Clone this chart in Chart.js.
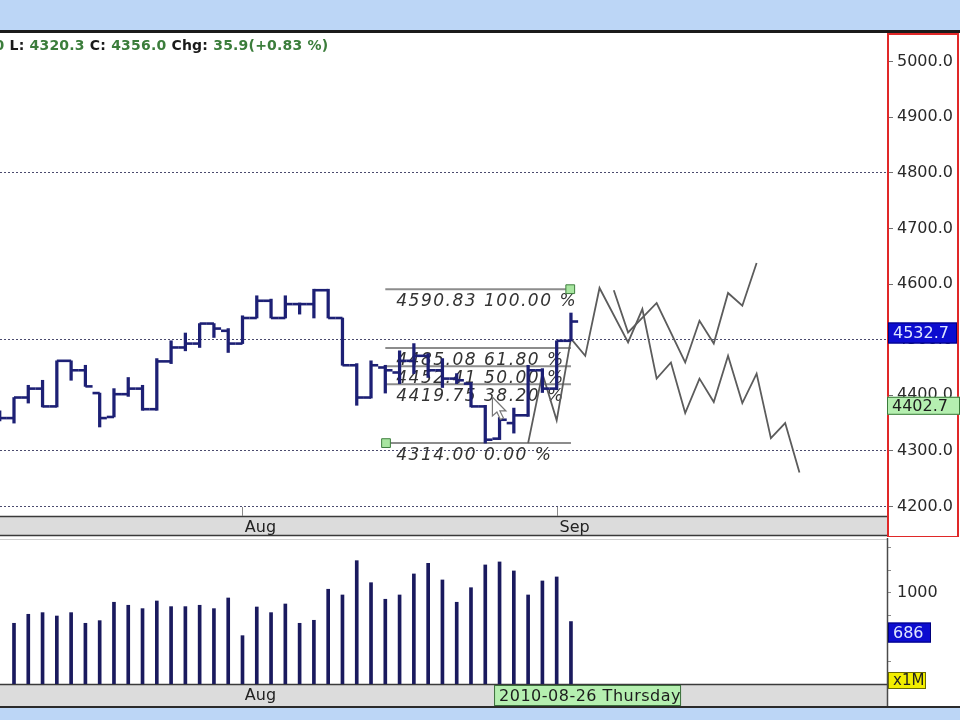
<!DOCTYPE html>
<html>
<head>
<meta charset="utf-8">
<title>Index – Fibonacci retracement</title>
<script src="https://cdn.jsdelivr.net/npm/chart.js@4.4.1/dist/chart.umd.min.js"></script>
<style>
  html, body { margin: 0; padding: 0; background: #fff; }
  body { width: 960px; height: 720px; position: relative; overflow: hidden; }
  .band { position: absolute; left: 0; width: 960px; background: #bcd6f6; }
  #topband { top: 0; height: 30px; border-bottom: 3px solid #1b1b1b; }
  #bottomband { top: 706px; height: 12px; border-top: 2px solid #2b2b2b; }
  canvas { position: absolute; left: 0; }
  #price { top: 33px; }
  #volume { top: 538px; }
</style>
</head>
<body>
<div id="topband" class="band"></div>
<canvas id="price" width="960" height="504"></canvas>
<canvas id="volume" width="960" height="168"></canvas>
<div id="bottomband" class="band"></div>
<script>
'use strict';

/* ---------- data ---------- */
const barDates = [
  '2010-07-08', '2010-07-09', '2010-07-12', '2010-07-13', '2010-07-14', '2010-07-15', '2010-07-16',
  '2010-07-19', '2010-07-20', '2010-07-21', '2010-07-22', '2010-07-23', '2010-07-26', '2010-07-27',
  '2010-07-28', '2010-07-29', '2010-07-30',
  '2010-08-02', '2010-08-03', '2010-08-04', '2010-08-05', '2010-08-06', '2010-08-09', '2010-08-10',
  '2010-08-11', '2010-08-12', '2010-08-13', '2010-08-16', '2010-08-17', '2010-08-18', '2010-08-19',
  '2010-08-20', '2010-08-23', '2010-08-24', '2010-08-25', '2010-08-26', '2010-08-27', '2010-08-30',
  '2010-08-31', '2010-09-01', '2010-09-02'
];
const opens  = [4360, 4359, 4396, 4412, 4380, 4462, 4445, 4404, 4361, 4402, 4412, 4375, 4461, 4486,
  4493, 4529, 4516, 4493, 4539, 4570, 4539, 4564, 4564, 4589, 4539, 4454, 4396, 4450, 4441, 4462,
  4471, 4445, 4430, 4421, 4380, 4322, 4350, 4364, 4445, 4412, 4498];
const highs  = [4372, 4396, 4418, 4427, 4462, 4462, 4454, 4404, 4412, 4432, 4418, 4466, 4498, 4512,
  4529, 4529, 4520, 4543, 4579, 4573, 4579, 4566, 4590.8, 4590.8, 4539, 4457, 4462, 4454, 4480, 4493,
  4475, 4466, 4439, 4423, 4382, 4360, 4377, 4454, 4448, 4498, 4548];
const lows   = [4354, 4350, 4386, 4379, 4379, 4427, 4416, 4343, 4361, 4398, 4373, 4373, 4457, 4480,
  4486, 4504, 4477, 4493, 4539, 4539, 4539, 4546, 4539, 4539, 4454, 4382, 4395, 4404, 4421, 4439,
  4432, 4414, 4421, 4379, 4314, 4320.3, 4332, 4362, 4405, 4410, 4498];
const closes = [4359, 4396, 4412, 4380, 4462, 4445, 4416, 4359, 4402, 4412, 4375, 4461, 4486, 4493,
  4529, 4520, 4493, 4539, 4570, 4539, 4564, 4564, 4589, 4539, 4454, 4396, 4454, 4445, 4462, 4471,
  4445, 4430, 4427, 4380, 4320.1, 4356.0, 4364, 4445, 4412, 4498, 4532.7];
// volume in millions
const volumes = [null, 667, 766, 784, 747, 784, 667, 696, 898, 865, 828, 912, 850, 850, 865, 828,
  945, 531, 846, 784, 879, 667, 700, 1041, 978, 1355, 1113, 931, 978, 1209, 1326, 1143, 898, 1058,
  1308, 1341, 1242, 978, 1132, 1176, 686];

const monthTickDates  = ['2010-08-02', '2010-09-01'];
const monthTickLabels = ['Aug', 'Sep'];
const priceTicks   = [4200, 4300, 4400, 4500, 4600, 4700, 4800, 4900, 5000];
const dottedLevels = [4200, 4300, 4500, 4800];
const volumeTicks  = [250, 500, 750, 1000, 1250, 1500];
const volumeLabelled = [1000];

// Fibonacci retracement tool
const fibLevels = [4590.83, 4485.08, 4452.41, 4419.75, 4314.00];
const fibPcts   = ['100.00', '61.80', '50.00', '38.20', '0.00'];
const fibSpan   = ['2010-08-16', '2010-09-02'];

// hand drawn projection zigzags (x = bar slot, y = price)
const projLowSlots  = [36, 37, 38, 39, 40, 41, 43, 44, 45, 46, 47, 48, 49, 50, 51, 52, 53, 54, 55];
const projLowPrices = [4314, 4439, 4355, 4502, 4471, 4593, 4495, 4555, 4430, 4459, 4368, 4430,
  4388, 4471, 4386, 4439, 4323, 4350, 4261];
const projHighSlots  = [42, 43, 45, 47, 48, 49, 50, 51, 52];
const projHighPrices = [4589, 4513, 4566, 4459, 4534, 4493, 4584, 4561, 4638];

const cursorDate  = '2010-08-26';
const cursorDay   = 'Thursday';
const cursorPrice = 4402.7;
const cursorArrow = { slot: 33.5, price: 4397 };

/* ---------- helpers ---------- */
const FIRST_SLOT = -1;                     // first bar sits just left of the plot edge
const slotOf = d => barDates.indexOf(d) + FIRST_SLOT;
const monthTickSlots = monthTickDates.map(slotOf);
const X_MIN = -0.98, X_MAX = 61.13;

const NAVY  = '#1d2075';
const GREEN = '#3b7d3b';
const FONT  = 'DejaVu Sans';
const axisFont = { family: FONT, size: 16 };

const fitAxis = (w, h) => scale => {
  if (w != null) scale.width = w;
  if (h != null) scale.height = h;
  scale.paddingTop = scale.paddingBottom = scale.paddingLeft = scale.paddingRight = 0;
};

function xAxis(height) {
  return {
    type: 'linear', min: X_MIN, max: X_MAX, offset: false,
    grid: { display: false, drawTicks: false, offset: false },
    border: { display: false },
    afterBuildTicks: s => { s.ticks = monthTickSlots.map(v => ({ value: v })); },
    ticks: {
      autoSkip: false, maxRotation: 0, padding: 2, labelOffset: 18,
      color: '#222', font: axisFont,
      callback: v => monthTickLabels[monthTickSlots.indexOf(v)] ?? ''
    },
    afterFit: fitAxis(null, height)
  };
}

function tag(ctx, x, y, w, h, fill, stroke, text, color, font) {
  ctx.save();
  ctx.fillStyle = fill;
  ctx.fillRect(x, y, w, h);
  ctx.strokeStyle = stroke;
  ctx.lineWidth = 1;
  ctx.strokeRect(x + 0.5, y + 0.5, w - 1, h - 1);
  ctx.fillStyle = color;
  ctx.font = font || `16px "${FONT}"`;
  ctx.textBaseline = 'middle';
  ctx.fillText(text, x + 5, y + h / 2 + 1);
  ctx.restore();
}

// grey axis strip under a plot, with little month ticks
function drawStrip(chart, bottomLine) {
  const { ctx, chartArea: a } = chart;
  const xs = chart.scales.x;
  ctx.save();
  ctx.fillStyle = '#dcdcdc';
  ctx.fillRect(0, a.bottom, a.right, (bottomLine || chart.height) - a.bottom);
  ctx.strokeStyle = '#3a3a3a';
  ctx.lineWidth = 1.5;
  ctx.beginPath();
  ctx.moveTo(0, a.bottom + 0.5); ctx.lineTo(a.right, a.bottom + 0.5);
  if (bottomLine) { ctx.moveTo(0, bottomLine + 0.5); ctx.lineTo(a.right, bottomLine + 0.5); }
  ctx.stroke();
  ctx.strokeStyle = '#8a8a8a';
  ctx.lineWidth = 1;
  ctx.beginPath();
  monthTickSlots.forEach(v => {
    const px = Math.round(xs.getPixelForValue(v)) + 0.5;
    ctx.moveTo(px, a.bottom - 9); ctx.lineTo(px, a.bottom);
  });
  ctx.stroke();
  ctx.restore();
}

/* ---------- price panel ---------- */
const hlData    = barDates.map((d, k) => ({ x: k + FIRST_SLOT, y: [lows[k], highs[k]] }));
const openData  = barDates.map((d, k) => ({ x: k + FIRST_SLOT - 0.25, y: opens[k] }));
const closeData = barDates.map((d, k) => ({ x: k + FIRST_SLOT + 0.25, y: closes[k] }));
const fibFrom = slotOf(fibSpan[0]), fibTo = slotOf(fibSpan[1]);

const pricePlugin = {
  id: 'priceDecor',
  beforeDraw(chart) { drawStrip(chart, chart.height - 2); },
  beforeDatasetsDraw(chart) {
    const { ctx, chartArea: a, scales: { x: xs, y: ys } } = chart;
    ctx.save();
    ctx.beginPath(); ctx.rect(a.left, a.top, a.width, a.height); ctx.clip();
    ctx.font = `italic 17px "${FONT}"`;
    ctx.letterSpacing = '1.5px';
    ctx.fillStyle = '#333';
    fibLevels.forEach((lv, j) => {
      ctx.fillText(`${lv.toFixed(2)} ${fibPcts[j]} %`, xs.getPixelForValue(fibFrom) + 11, ys.getPixelForValue(lv) + 17);
    });
    ctx.restore();
  },
  afterDatasetsDraw(chart) {
    const { ctx, scales: { x: xs, y: ys } } = chart;
    const tx = xs.getPixelForValue(cursorArrow.slot), ty = ys.getPixelForValue(cursorArrow.price);
    const pts = [[0, 0], [0, 19], [4.5, 15], [8, 22.5], [11, 21], [7.5, 14], [13.5, 14]];
    ctx.save();
    ctx.beginPath();
    pts.forEach(([px, py], i) => (i ? ctx.lineTo : ctx.moveTo).call(ctx, tx + px, ty + py));
    ctx.closePath();
    ctx.fillStyle = '#fff';
    ctx.fill();
    ctx.strokeStyle = '#777';
    ctx.lineWidth = 1.2;
    ctx.stroke();
    ctx.restore();
  },
  afterDraw(chart) {
    const { ctx, chartArea: a, scales: { y: ys } } = chart;
    // header line for the cursor bar (scrolled partly out of view on the left)
    const k = barDates.indexOf(cursorDate);
    const chg = closes[k] - closes[k - 1];
    const pct = chg / closes[k - 1] * 100;
    const parts = [
      ['O: ', '#1a1a1a'], [opens[k].toFixed(1) + ' ', GREEN],
      ['H: ', '#1a1a1a'], [highs[k].toFixed(1) + ' ', GREEN],
      ['L: ', '#1a1a1a'], [lows[k].toFixed(1) + ' ', GREEN],
      ['C: ', '#1a1a1a'], [closes[k].toFixed(1) + ' ', GREEN],
      ['Chg: ', '#1a1a1a'], [`${chg.toFixed(1)}(${chg >= 0 ? '+' : ''}${pct.toFixed(2)} %)`, GREEN]
    ];
    ctx.save();
    ctx.font = `bold 14px "${FONT}"`;
    ctx.letterSpacing = '0.2px';
    const hiText = parts[3][0];
    const lead = ctx.measureText(parts[0][0] + parts[1][0] + parts[2][0] + hiText.slice(0, hiText.length - 2)).width;
    let x = -5.5 - lead;
    parts.forEach(([t, c]) => { ctx.fillStyle = c; ctx.fillText(t, x, 17); x += ctx.measureText(t).width; });
    ctx.restore();

    // red frame round the price scale
    ctx.save();
    ctx.strokeStyle = '#e02828';
    ctx.lineWidth = 2;
    ctx.strokeRect(a.right + 1, 1, 70, chart.height - 1);
    ctx.restore();

    tag(ctx, a.right + 1, ys.getPixelForValue(closes[closes.length - 1]) + 1, 69, 21,
      '#0c0cd0', '#00007a', closes[closes.length - 1].toFixed(1), '#dfe6ff');
    tag(ctx, a.right, ys.getPixelForValue(cursorPrice) + 3, 73, 18,
      '#b5efb0', '#3b7a3b', cursorPrice.toFixed(1), '#1c1c1c');
  }
};

new Chart(document.getElementById('price'), {
  type: 'bar',
  data: {
    datasets: [
      ...fibLevels.map(lv => ({
        type: 'line', order: 6,
        data: [{ x: fibFrom, y: lv }, { x: fibTo, y: lv }],
        borderColor: '#8c8c8c', borderWidth: 2, pointRadius: 0
      })),
      {
        type: 'line', order: 5,
        data: projLowSlots.map((s, i) => ({ x: s, y: projLowPrices[i] })),
        borderColor: '#5c5c5c', borderWidth: 1.8, pointRadius: 0, tension: 0
      },
      {
        type: 'line', order: 5,
        data: projHighSlots.map((s, i) => ({ x: s, y: projHighPrices[i] })),
        borderColor: '#5c5c5c', borderWidth: 1.8, pointRadius: 0, tension: 0
      },
      {
        type: 'bar', order: 4, data: hlData,
        backgroundColor: NAVY, borderWidth: 0, barThickness: 2.6, grouped: false
      },
      {
        type: 'line', order: 3, data: openData, showLine: false,
        pointStyle: 'line', pointRadius: 3.6, pointBorderWidth: 2.6, pointBorderColor: NAVY
      },
      {
        type: 'line', order: 3, data: closeData, showLine: false,
        pointStyle: 'line', pointRadius: 3.6, pointBorderWidth: 2.6, pointBorderColor: NAVY
      },
      {
        type: 'line', order: 1, showLine: false,
        data: [{ x: fibTo - 0.05, y: fibLevels[0] }, { x: fibFrom + 0.05, y: fibLevels[fibLevels.length - 1] }],
        pointStyle: 'rect', pointRadius: 6.2, pointBackgroundColor: '#a8e6a0',
        pointBorderColor: '#3f7f3f', pointBorderWidth: 1
      }
    ]
  },
  options: {
    responsive: false,
    animation: false,
    events: [],
    devicePixelRatio: 1,
    layout: { padding: 0, autoPadding: false },
    plugins: { legend: { display: false }, tooltip: { enabled: false } },
    scales: {
      x: xAxis(21),
      y: {
        type: 'linear', position: 'right', min: 4182.9, max: 5051.6,
        afterBuildTicks: s => { s.ticks = priceTicks.map(v => ({ value: v })); },
        grid: {
          color: c => dottedLevels.includes(c.tick && c.tick.value) ? '#4b4b6e' : 'rgba(0,0,0,0)',
          lineWidth: 1, tickColor: '#707070', tickLength: 6
        },
        border: { display: false, dash: [2, 2] },
        ticks: { color: '#2a2a2a', font: axisFont, padding: 4, callback: v => v.toFixed(1) },
        afterFit: fitAxis(73, null)
      }
    }
  },
  plugins: [pricePlugin]
});

/* ---------- volume panel ---------- */
const volPlugin = {
  id: 'volDecor',
  beforeDraw(chart) {
    drawStrip(chart);
    const { ctx, chartArea: a } = chart;
    ctx.save();
    ctx.strokeStyle = '#cfcfcf';
    ctx.lineWidth = 1;
    ctx.beginPath(); ctx.moveTo(0, 1.5); ctx.lineTo(a.right, 1.5); ctx.stroke();
    ctx.restore();
  },
  afterDraw(chart) {
    const { ctx, chartArea: a, scales: { x: xs, y: ys } } = chart;
    ctx.save();
    ctx.strokeStyle = '#4a4a4a';
    ctx.lineWidth = 1.5;
    ctx.beginPath(); ctx.moveTo(a.right + 0.5, 0); ctx.lineTo(a.right + 0.5, chart.height); ctx.stroke();
    ctx.restore();

    const lastVol = volumes[volumes.length - 1];
    tag(ctx, a.right + 1, ys.getPixelForValue(lastVol) + 1, 43, 20, '#0c0cd0', '#00007a', String(lastVol), '#dfe6ff');
    tag(ctx, a.right + 1, a.bottom - 12, 38, 17, '#f2ee00', '#6a6a00', 'x1M', '#222', `15px "${FONT}"`);

    ctx.save();
    ctx.letterSpacing = '0.5px';
    tag(ctx, xs.getPixelForValue(slotOf(cursorDate)) - 5.5, a.bottom + 1, 187, chart.height - a.bottom - 1,
      '#b5efb0', '#3b6e3b', `${cursorDate} ${cursorDay}`, '#1c1c1c');
    ctx.restore();
  }
};

new Chart(document.getElementById('volume'), {
  type: 'bar',
  data: {
    datasets: [{
      data: barDates.map((d, k) => ({ x: k + FIRST_SLOT, y: volumes[k] })),
      backgroundColor: '#1a1a5e', borderWidth: 0, barThickness: 3
    }]
  },
  options: {
    responsive: false,
    animation: false,
    events: [],
    devicePixelRatio: 1,
    layout: { padding: { top: 2 }, autoPadding: false },
    plugins: { legend: { display: false }, tooltip: { enabled: false } },
    scales: {
      x: xAxis(22),
      y: {
        type: 'linear', position: 'right', min: 0, max: 1582,
        afterBuildTicks: s => { s.ticks = volumeTicks.map(v => ({ value: v })); },
        grid: { drawOnChartArea: false, tickLength: 4, tickColor: '#8a8a8a' },
        border: { display: false },
        ticks: {
          color: '#2a2a2a', font: axisFont, padding: 6,
          callback: v => volumeLabelled.includes(v) ? String(v) : ''
        },
        afterFit: fitAxis(73, null)
      }
    }
  },
  plugins: [volPlugin]
});
</script>
</body>
</html>
